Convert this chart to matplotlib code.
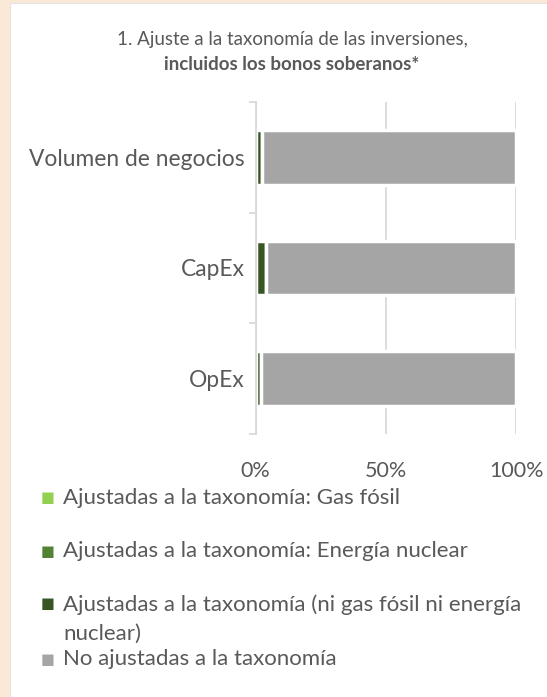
import numpy as np
import matplotlib.pyplot as plt
from matplotlib.patches import Rectangle

plt.rcParams['font.family'] = ['Lato', 'DejaVu Sans']

# data (percent of investments)
categories = ['Volumen de negocios', 'CapEx', 'OpEx']
gas_fosil = [0.0, 0.0, 0.0]
nuclear = [0.0, 0.0, 0.0]
otras_ajustadas = [2.3, 4.0, 1.9]
no_ajustadas = [97.7, 96.0, 98.1]

series_labels = ['Ajustadas a la taxonomía: Gas fósil',
                 'Ajustadas a la taxonomía: Energía nuclear',
                 'Ajustadas a la taxonomía (ni gas fósil ni energía\nnuclear)',
                 'No ajustadas a la taxonomía']
colors = ['#92D050', '#548235', '#375623', '#A5A5A5']
xticks = [0, 50, 100]
xtick_labels = ['0%', '50%', '100%']

txt = '#595959'
grid_c = '#D9D9D9'
W, H = 547, 697

fig = plt.figure(figsize=(W / 100, H / 100), dpi=100)
fig.patch.set_facecolor('#FBE9D7')
fig.add_artist(Rectangle((10 / W, 0), 1, 1 - 3 / H, transform=fig.transFigure,
                         facecolor='white', edgecolor='#E4E4E4', lw=0.8, zorder=-5))

ax = fig.add_axes([255.7 / W, 1 - 433.7 / H, (516.3 - 255.7) / W, (433.7 - 102.2) / H])
ax.set_facecolor('none')

y = np.arange(len(categories))
left = np.zeros(len(categories))
for vals, c in zip([gas_fosil, nuclear, otras_ajustadas, no_ajustadas], colors):
    ax.barh(y, vals, left=left, height=0.49, color=c, edgecolor='white', linewidth=2.5)
    left += np.array(vals)

ax.set_xlim(0, 100)
ax.set_ylim(2.5, -0.5)
ax.set_yticks(y)
ax.set_yticklabels(categories, fontsize=16.4, color=txt)
ax.set_yticks([-0.5, 0.5, 1.5, 2.5], minor=True)
ax.tick_params(axis='y', which='major', length=0, pad=8)
ax.tick_params(axis='y', which='minor', length=5, color=grid_c, width=1.3)
ax.set_xticks(xticks)
ax.set_xticklabels(xtick_labels, fontsize=15.5, color=txt)
ax.tick_params(axis='x', length=0, pad=20)
ax.grid(axis='x', color=grid_c, lw=1.3)
ax.set_axisbelow(True)
for s in ['top', 'right', 'bottom']:
    ax.spines[s].set_visible(False)
ax.spines['left'].set_color(grid_c)
ax.spines['left'].set_linewidth(1.3)

fig.text(292 / W, 1 - 40 / H, '1. Ajuste a la taxonomía de las inversiones,',
         ha='center', va='center', fontsize=13.5, color=txt)
fig.text(292 / W, 1 - 64 / H, 'incluidos los bonos soberanos*',
         ha='center', va='center', fontsize=13.5, color=txt, fontweight='bold')

# legend
leg_y = [498, 551, 604, 659]
for lab, c, yy in zip(series_labels, colors, leg_y):
    fig.text(48 / W, 1 - yy / H, '■', color=c, fontsize=10.5, ha='center', va='center',
             family='DejaVu Sans')
    fig.text(63 / W, 1 - (yy - 10) / H, lab, color=txt, fontsize=16, ha='left',
             va='top', linespacing=1.55)

fig.savefig('out.png', dpi=100)
